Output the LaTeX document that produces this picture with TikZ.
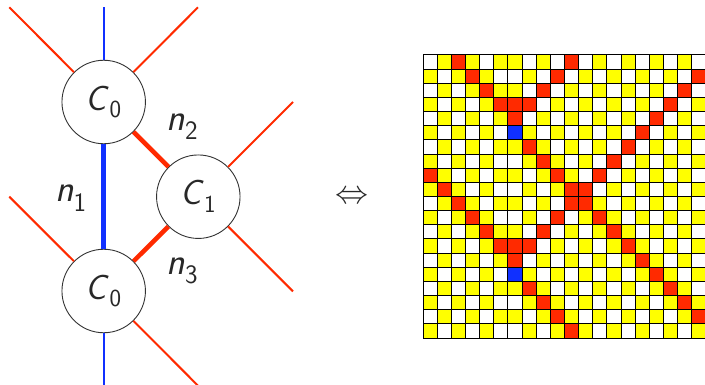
\documentclass[tikz,border=0pt]{standalone}
\usepackage{amsmath}
\usepackage{graphicx}
\definecolor{myred}{RGB}{255,42,0}
\definecolor{myblue}{RGB}{16,48,255}
\definecolor{myyellow}{RGB}{255,255,0}
\definecolor{txt}{RGB}{40,40,40}
\begin{document}
\begin{tikzpicture}[x=1pt,y=-1pt,
  cnode/.style={circle, draw=black!80, line width=0.9pt, fill=white, minimum size=83.5pt, inner sep=0pt, text=txt, font=\fontsize{35}{40}\selectfont},
  lbl/.style={inner sep=0pt, anchor=base west, text=txt, font=\fontsize{38}{44}\selectfont},
  thinred/.style={draw=myred, line width=2pt},
  thickred/.style={draw=myred, line width=4.5pt},
  thinblue/.style={draw=myblue, line width=2pt},
  thickblue/.style={draw=myblue, line width=4.5pt},
  gridline/.style={draw=black, line width=1pt}
]
\useasboundingbox (0,0) rectangle (705,385);
% graph nodes
\node[cnode] (c0a) at (103.7,102) {$\textsf{\textsl{C}}_{\textsf{0}}$};
\node[cnode] (c1)  at (198.3,196.7) {$\textsf{\textsl{C}}_{\textsf{1}}$};
\node[cnode] (c0b) at (103.7,291) {$\textsf{\textsl{C}}_{\textsf{0}}$};
\coordinate (ttop) at (103.7,7);
\coordinate (tbot) at (103.7,385);
\coordinate (tl) at (9.3,7.3);
\coordinate (tr) at (198,7.3);
\coordinate (c1ur) at (293,102);
\coordinate (c1dr) at (293,291.4);
\coordinate (bl) at (9.3,196.7);
\coordinate (br) at (198,385.7);
\draw[thinblue] (c0a) -- (ttop);
\draw[thinblue] (c0b) -- (tbot);
\draw[thickblue] (c0a) -- (c0b);
\draw[thinred] (c0a) -- (tl);
\draw[thinred] (c0a) -- (tr);
\draw[thinred] (c1) -- (c1ur);
\draw[thinred] (c1) -- (c1dr);
\draw[thinred] (c0b) -- (bl);
\draw[thinred] (c0b) -- (br);
\draw[thickred] (c0a) -- (c1);
\draw[thickred] (c0b) -- (c1);
\node[lbl] (n1) at (55,202) {$\textsf{\textsl{n}}_{\textsf{1}}$};
\node[lbl] (n2) at (166.5,130.5) {$\textsf{\textsl{n}}_{\textsf{2}}$};
\node[lbl] (n3) at (166.5,274) {$\textsf{\textsl{n}}_{\textsf{3}}$};
\node[inner sep=0pt, text=txt] (iff) at (352,197) {\resizebox{33pt}{!}{$\Leftrightarrow$}};
% matrix
\begin{scope}
\clip (0,0) rectangle (705,385);
\foreach \i in {0,...,19}{
  \foreach \j in {0,...,19}{
    \pgfmathtruncatemacro{\p}{mod(\i+\j+(\j<6 ? 1 : 0),2)}
    \ifnum\p=0
      \fill[myyellow] ({423+\j*14.15},{55+\i*14.15}) rectangle ++(14.15,14.15);
    \fi
  }
}
\foreach \i/\j in {0/2,0/10,1/3,1/9,1/19,2/4,2/8,2/18,3/5,3/6,3/7,3/17,4/6,4/16,5/15,6/7,6/14,7/8,7/13,8/0,8/9,8/12,9/1,9/10,9/11,10/2,10/10,10/11,11/3,11/9,11/12,12/4,12/8,12/13,13/5,13/6,13/7,13/14,14/6,14/15,15/16,16/7,16/17,17/8,17/18,18/9,18/19,19/10}
  \fill[myred] ({423+\j*14.15},{55+\i*14.15}) rectangle ++(14.15,14.15);
\foreach \i/\j in {5/6,15/6}
  \fill[myblue] ({423+\j*14.15},{55+\i*14.15}) rectangle ++(14.15,14.15);
\foreach \k in {0,...,20}{
  \draw[gridline] ({423+\k*14.15},55) -- ({423+\k*14.15},338);
  \draw[gridline] (423,{55+\k*14.15}) -- (706,{55+\k*14.15});
}
\end{scope}
\end{tikzpicture}
\end{document}
